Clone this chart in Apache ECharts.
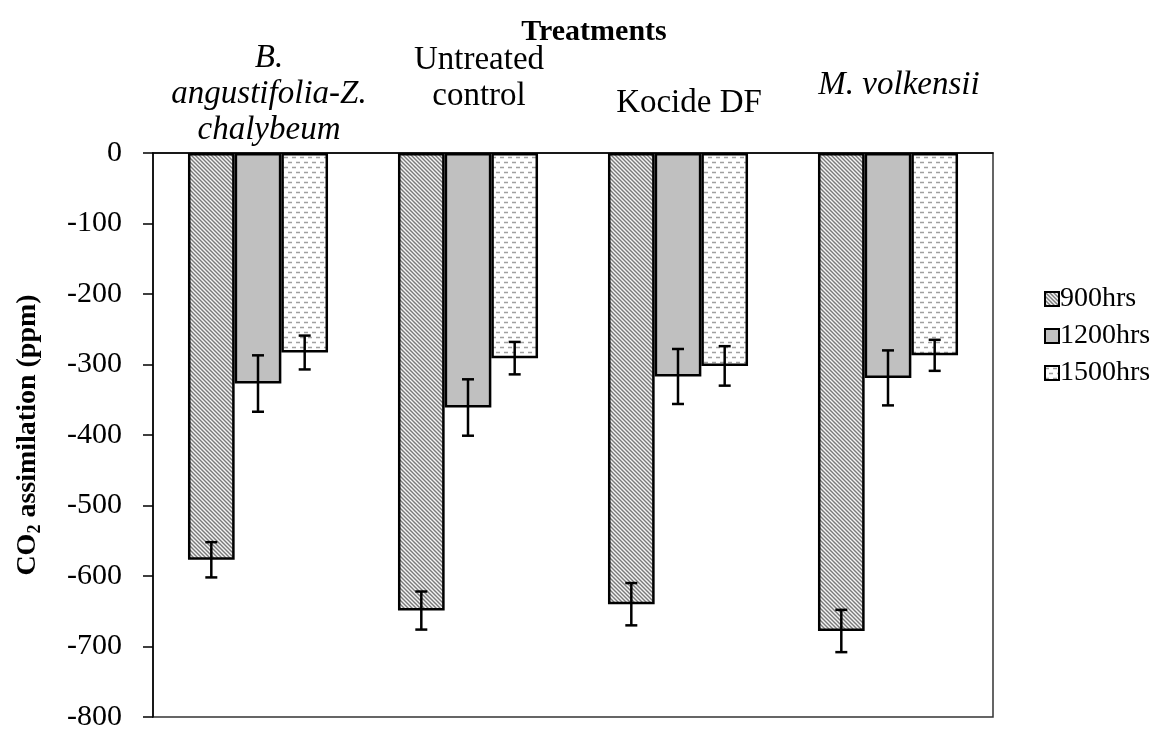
<!DOCTYPE html>
<html>
<head>
<meta charset="utf-8">
<script src="https://cdn.jsdelivr.net/npm/echarts@6/dist/echarts.min.js"></script>
<style>
    html, body { margin: 0; padding: 0; background: #fff; }
    #chart { width: 1169px; height: 732px; }
</style>
</head>
<body>
<div id="chart"></div>
<script>
var treatments = ['B. angustifolia-Z. chalybeum', 'Untreated control', 'Kocide DF', 'M. volkensii'];
var seriesNames = ['900hrs', '1200hrs', '1500hrs'];
var co2At900 = [-577, -649, -640, -678];
var co2At1200 = [-327, -361, -317, -319];
var co2At1500 = [-283, -291, -302, -287];
var err900 = [25, 27, 30, 30];
var err1200 = [40, 40, 39, 39];
var err1500 = [24, 23, 28, 22];
var yTicks = [0, -100, -200, -300, -400, -500, -600, -700, -800];

var serif = "'Liberation Serif', 'Times New Roman', serif";

// 斜线填充 (900hrs)
function hatchPattern() {
    var c = document.createElement('canvas');
    c.width = 4;
    c.height = 4;
    var ctx = c.getContext('2d');
    ctx.fillStyle = '#f4f4f4';
    ctx.fillRect(0, 0, 4, 4);
    ctx.strokeStyle = '#7a7a7a';
    ctx.lineWidth = 1.4;
    ctx.beginPath();
    ctx.moveTo(-1, -1); ctx.lineTo(5, 5);
    ctx.moveTo(-1, 3); ctx.lineTo(1, 5);
    ctx.moveTo(3, -1); ctx.lineTo(5, 1);
    ctx.stroke();
    return { image: c, repeat: 'repeat' };
}

// 短横线填充 (1500hrs)
function dashPattern() {
    var c = document.createElement('canvas');
    c.width = 8;
    c.height = 10;
    var ctx = c.getContext('2d');
    ctx.fillStyle = '#ffffff';
    ctx.fillRect(0, 0, 8, 10);
    ctx.strokeStyle = '#a0a0a0';
    ctx.lineWidth = 1.3;
    ctx.beginPath();
    ctx.moveTo(0, 2.5); ctx.lineTo(4, 2.5);
    ctx.moveTo(4, 7.5); ctx.lineTo(8, 7.5);
    ctx.stroke();
    return { image: c, repeat: 'repeat' };
}

var fills = [hatchPattern(), '#c0c0c0', dashPattern()];
var values = [co2At900, co2At1200, co2At1500];
var errors = [err900, err1200, err1500];

// category labels, each placed a bit differently like the original
var labelText = ['B.\nangustifolia-Z.\nchalybeum', 'Untreated\ncontrol', 'Kocide DF', 'M. volkensii'];
var labelItalic = [true, false, false, true];
var labelLift = [0, 34, 27, 45];

var categoryData = [];
for (var i = 0; i < treatments.length; i++) {
    categoryData.push({
        value: treatments[i],
        textStyle: {
            fontStyle: labelItalic[i] ? 'italic' : 'normal',
            padding: [0, 0, labelLift[i], 22]
        }
    });
}

var barSeries = [];
for (var s = 0; s < seriesNames.length; s++) {
    barSeries.push({
        name: seriesNames[s],
        type: 'bar',
        data: values[s],
        barGap: '0%',
        barCategoryGap: '33.3%',
        itemStyle: {
            color: fills[s],
            borderColor: '#000',
            borderWidth: 2.5
        }
    });
}

var errData = [];
for (var s2 = 0; s2 < values.length; s2++) {
    for (var k = 0; k < values[s2].length; k++) {
        errData.push([k, values[s2][k] - errors[s2][k], values[s2][k] + errors[s2][k], s2]);
    }
}

var errSeries = {
    name: 'err',
    type: 'custom',
    z: 5,
    data: errData,
    encode: { x: 0, y: [1, 2] },
    renderItem: function (params, api) {
        var catW = api.size([1, 0])[0];
        var bw = catW * (1 - 0.333) / 3;
        var cx = api.coord([api.value(0), 0])[0] + (api.value(3) - 1) * bw;
        var lo = api.coord([api.value(0), api.value(1)])[1];
        var hi = api.coord([api.value(0), api.value(2)])[1];
        var cap = 6;
        var st = { stroke: '#000', lineWidth: 2.5 };
        return {
            type: 'group',
            children: [
                { type: 'line', shape: { x1: cx, y1: lo, x2: cx, y2: hi }, style: st },
                { type: 'line', shape: { x1: cx - cap, y1: lo, x2: cx + cap, y2: lo }, style: st },
                { type: 'line', shape: { x1: cx - cap, y1: hi, x2: cx + cap, y2: hi }, style: st }
            ]
        };
    }
};

var chart = echarts.init(document.getElementById('chart'), null, { renderer: 'canvas' });

var option = {
    animation: false,
    backgroundColor: '#fff',
    textStyle: { fontFamily: serif, color: '#000' },
    title: {
        text: 'Treatments',
        left: 589,
        top: 12,
        textAlign: 'center',
        textStyle: { fontFamily: serif, fontWeight: 'bold', fontSize: 30, color: '#000' }
    },
    legend: {
        data: seriesNames,
        orient: 'vertical',
        left: 1039,
        top: 280,
        icon: 'rect',
        itemWidth: 14,
        itemHeight: 14,
        itemGap: 9,
        itemStyle: { borderColor: '#000', borderWidth: 2 },
        textStyle: { fontFamily: serif, fontSize: 28, color: '#000', padding: [0, 0, 0, -4] }
    },
    grid: {
        left: 153,
        right: 176,
        top: 153,
        bottom: 10,
        show: true,
        borderColor: '#333',
        borderWidth: 1.5
    },
    xAxis: {
        type: 'category',
        position: 'top',
        data: categoryData,
        axisLine: { lineStyle: { color: '#000', width: 1.5 } },
        axisTick: { show: false },
        axisLabel: {
            interval: 0,
            margin: 5,
            fontFamily: serif,
            fontSize: 33,
            lineHeight: 36,
            color: '#000',
            formatter: function (val, idx) {
                return labelText[idx];
            }
        }
    },
    yAxis: {
        type: 'value',
        min: yTicks[yTicks.length - 1],
        max: yTicks[0],
        interval: 100,
        name: '{b|CO}{s|2}{b| assimilation (ppm)}',
        nameLocation: 'middle',
        nameRotate: 90,
        nameGap: 108,
        nameTextStyle: {
            rich: {
                b: { fontFamily: serif, fontWeight: 'bold', fontSize: 28, color: '#000', lineHeight: 34 },
                s: { fontFamily: serif, fontWeight: 'bold', fontSize: 18, color: '#000', lineHeight: 34, padding: [14, 0, 0, 0] }
            }
        },
        axisLine: { show: true, lineStyle: { color: '#000', width: 1.5 } },
        axisTick: { show: true, length: 10, lineStyle: { color: '#000', width: 1.5 } },
        splitLine: { show: false },
        axisLabel: {
            margin: 31,
            fontFamily: serif,
            fontSize: 30,
            color: '#000'
        }
    },
    series: barSeries.concat([errSeries])
};

chart.setOption(option);
</script>
</body>
</html>
